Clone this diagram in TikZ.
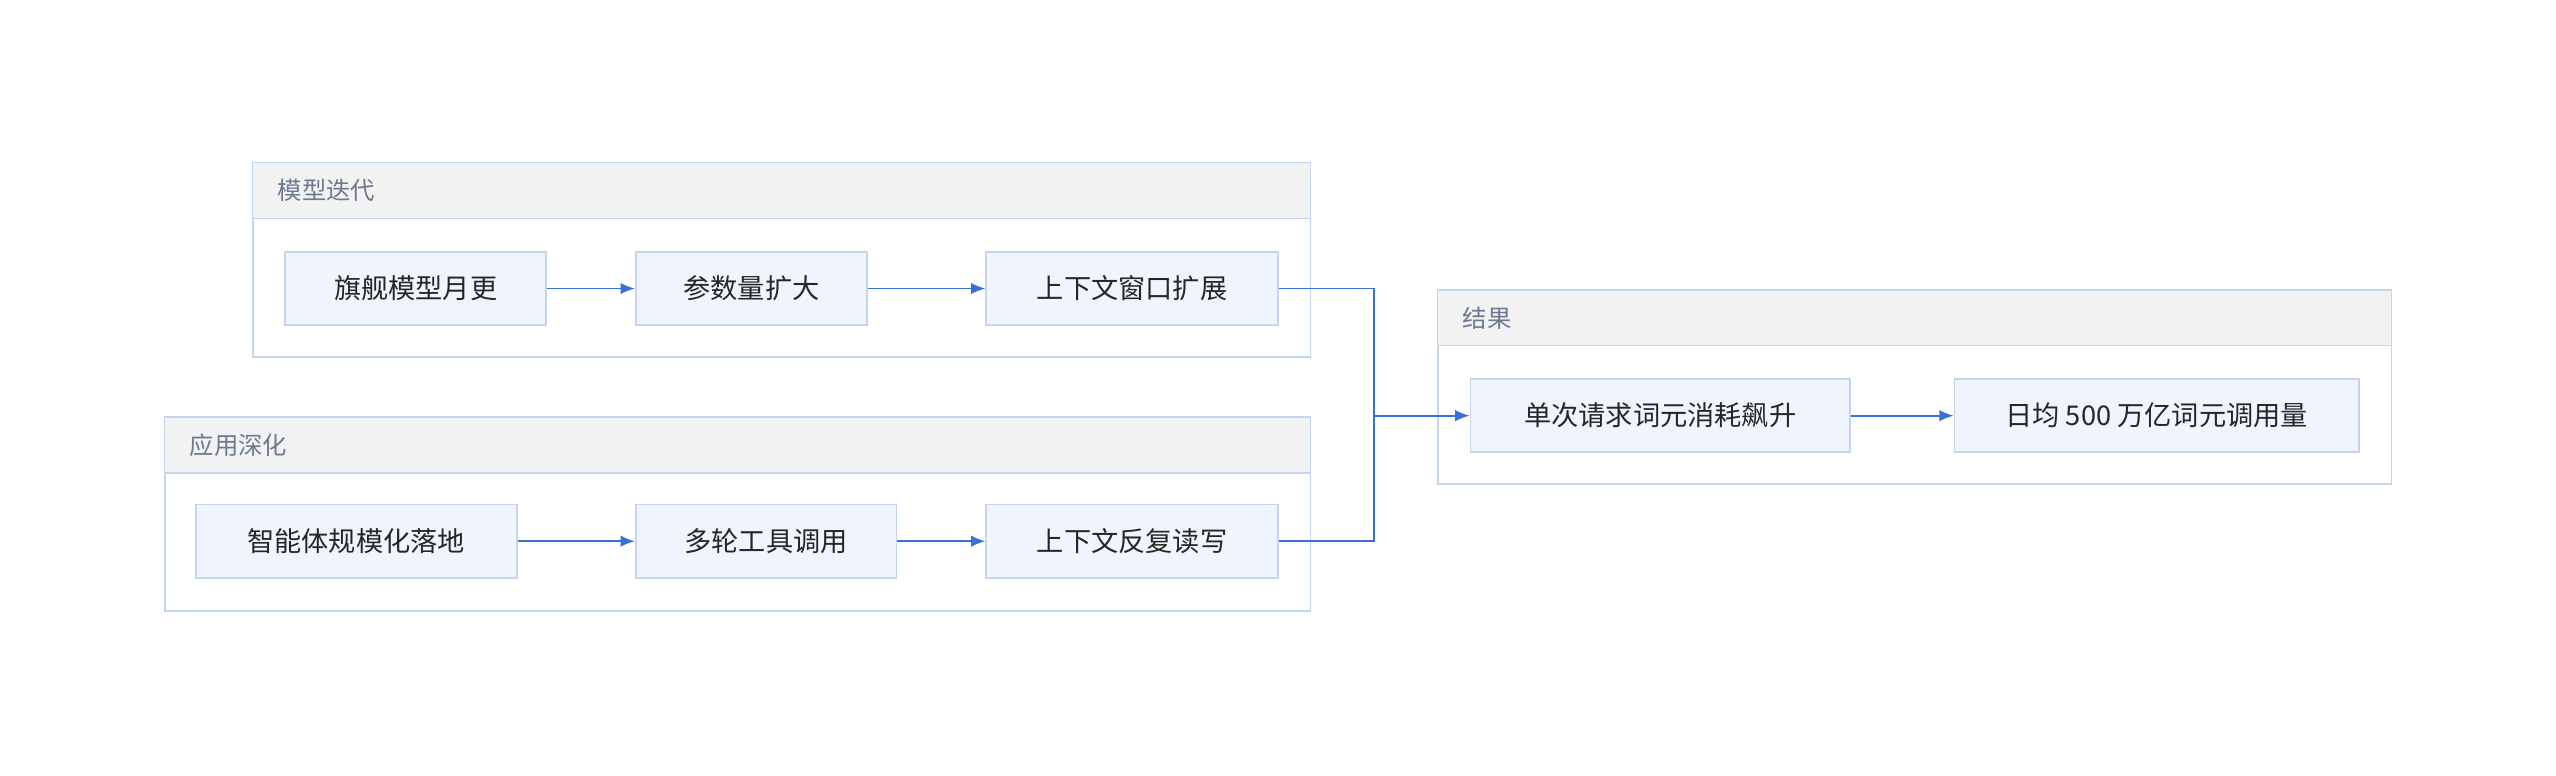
\documentclass[tikz,border=0pt]{standalone}
\usepackage{fontspec}
\setmainfont{Noto Sans CJK SC}
\usetikzlibrary{arrows.meta}
\definecolor{edgeblue}{HTML}{C5D5F0}
\definecolor{boxfill}{HTML}{EFF4FD}
\definecolor{headgray}{HTML}{F2F2F2}
\definecolor{arrowblue}{HTML}{3A6FD8}
\definecolor{titlegray}{HTML}{6B7A90}
\tikzset{
    stage/.style={draw=edgeblue, fill=boxfill, line width=0.6pt, font=\fontsize{9.5}{11}\selectfont, text=black!85, minimum height=0.9cm, inner sep=0pt},
    flow/.style={draw=arrowblue, line width=0.6pt, -{Latex[length=5pt,width=4pt]}},
    merge/.style={draw=arrowblue, line width=0.6pt},
    grouptitle/.style={font=\fontsize{8.5}{10}\selectfont, text=titlegray, anchor=west, inner sep=0pt}
}
\begin{document}
\begin{tikzpicture}[x=0.02cm, y=-0.02cm]
    \useasboundingbox (0, 0) rectangle (1568, 476);
    % groups
    \draw[edgeblue, line width=0.6pt] (155, 100) rectangle (804, 219);
        \fill[headgray] (155.3, 100.3) rectangle (803.7, 134);
        \draw[edgeblue, line width=0.6pt] (155, 134) -- (804, 134);
        \node[grouptitle] (g1) at (170, 117) {模型迭代};
    \draw[edgeblue, line width=0.6pt] (101, 256) rectangle (804, 375);
        \fill[headgray] (101.3, 256.3) rectangle (803.7, 290);
        \draw[edgeblue, line width=0.6pt] (101, 290) -- (804, 290);
        \node[grouptitle] (g2) at (116, 273) {应用深化};
    \draw[edgeblue, line width=0.6pt] (882, 178) rectangle (1467, 297);
        \fill[headgray] (882.3, 178.3) rectangle (1466.7, 212);
        \draw[edgeblue, line width=0.6pt] (882, 212) -- (1467, 212);
        \node[grouptitle] (g3) at (897, 195) {结果};

    % stages
    \node[stage, minimum width=3.2cm] (flag) at (255, 177) {旗舰模型月更};
    \node[stage, minimum width=2.84cm] (param) at (461, 177) {参数量扩大};
    \node[stage, minimum width=3.58cm] (window) at (694.5, 177) {上下文窗口扩展};
    \node[stage, minimum width=3.94cm] (agent) at (218.5, 332) {智能体规模化落地};
    \node[stage, minimum width=3.2cm] (tools) at (470, 332) {多轮工具调用};
    \node[stage, minimum width=3.58cm] (rw) at (694.5, 332) {上下文反复读写};
    \node[stage, minimum width=4.66cm] (tokens) at (1018.5, 255) {单次请求词元消耗飙升};
    \node[stage, minimum width=4.96cm] (daily) at (1323, 255) {日均 500 万亿词元调用量};

    \coordinate (mid) at (843, 255);

    \draw[flow] (flag) -- (param);
    \draw[flow] (param) -- (window);
    \draw[flow] (agent) -- (tools);
    \draw[flow] (tools) -- (rw);
    \draw[merge] (window) -| (mid);
    \draw[merge] (rw) -| (mid);
    \draw[flow] (mid) -- (tokens);
    \draw[flow] (tokens) -- (daily);
\end{tikzpicture}
\end{document}
